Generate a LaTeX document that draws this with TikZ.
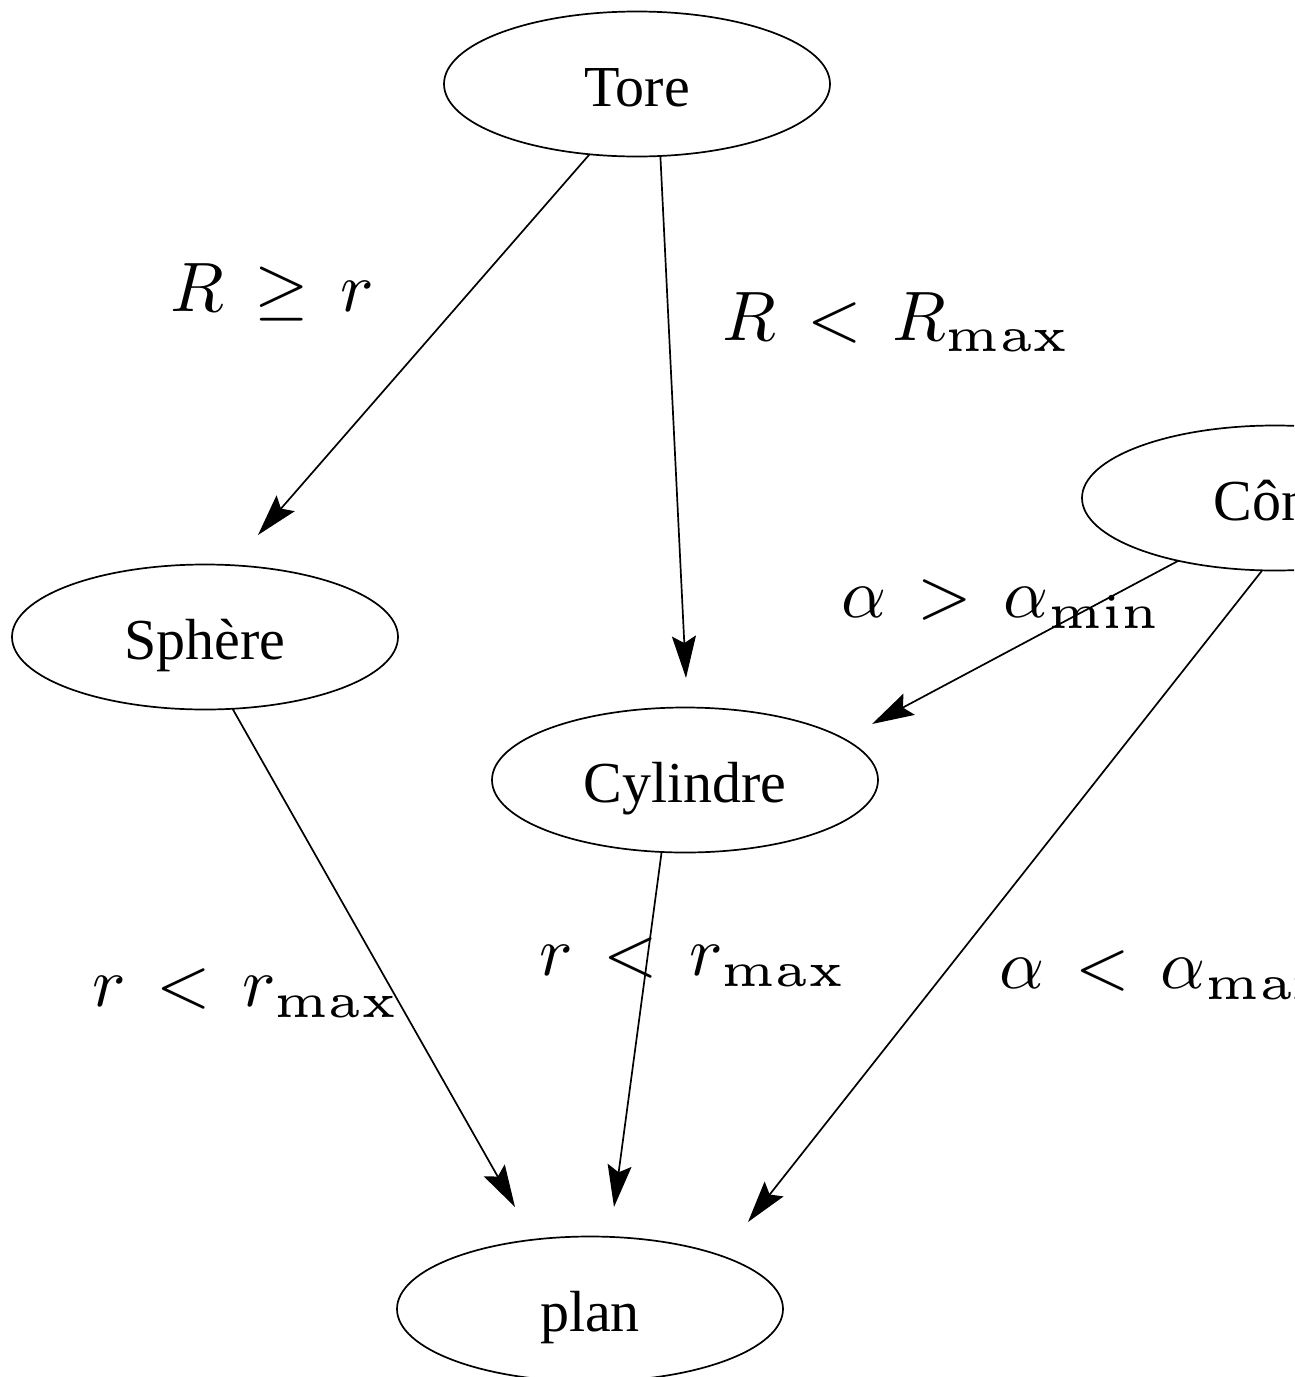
\documentclass[tikz,border=0pt]{standalone}
\usepackage[no-math]{fontspec}
\setmainfont{Liberation Serif}
\usetikzlibrary{shapes.geometric,arrows.meta}
\font\subfnt=cmr5 at 7pt
\newcommand\rsub[1]{_{\hbox{\subfnt #1}}}
\tikzset{
  state/.style={ellipse,draw,line width=1.7pt,minimum width=386pt,minimum height=145pt,inner sep=0pt,outer sep=0pt,text height=45pt,text depth=0pt,font=\fontsize{58}{62}\selectfont},
  edge/.style={line width=1.7pt,-{Stealth[length=42pt,width=24pt,inset=7pt]}},
  lab/.style={inner sep=0pt,scale=7}
}
\begin{document}
\begin{tikzpicture}[x=1pt,y=-1pt]
\useasboundingbox (0,0) rectangle (1294,1377);
\clip (0,0) rectangle (1294,1377);
\node[state] (tore) at (637,84) {Tore};
\node[state] (sph) at (205,637) {Sphère};
\node[state] (cyl) at (685,780) {Cylindre};
\node[state] (cone) at (1275,498) {Cône};
\node[state] (plan) at (590,1309) {plan};
\coordinate (t1) at (258,535);
\coordinate (t2) at (686,678);
\coordinate (t3) at (872,724);
\coordinate (t4) at (748,1222);
\coordinate (t5) at (515,1207);
\coordinate (t6) at (614,1207);
\draw[edge] (tore.-124) -- (t1);
\draw[edge] (tore.-72.5) -- (t2);
\draw[edge] (cone.-147.4) -- (t3);
\draw[edge] (cone.-100.5) -- (t4);
\draw[edge] (sph.-69.7) -- (t5);
\draw[edge] (cyl.-108.9) -- (t6);
\node[lab] (l1) at (272,292) {$R \,\geq\, r$};
\node[lab] (l2) at (897,322) {$R \,<\, R\rsub{max}$};
\node[lab] (l3) at (1002,604) {$\alpha \,>\, \alpha\rsub{min}$};
\node[lab] (l4) at (246,993) {$r \,<\, r\rsub{max}$};
\node[lab] (l5) at (693,962) {$r \,<\, r\rsub{max}$};
\node[lab,anchor=west] (l6) at (998,975) {$\alpha \,<\, \alpha\rsub{max}$};
\end{tikzpicture}
\end{document}
